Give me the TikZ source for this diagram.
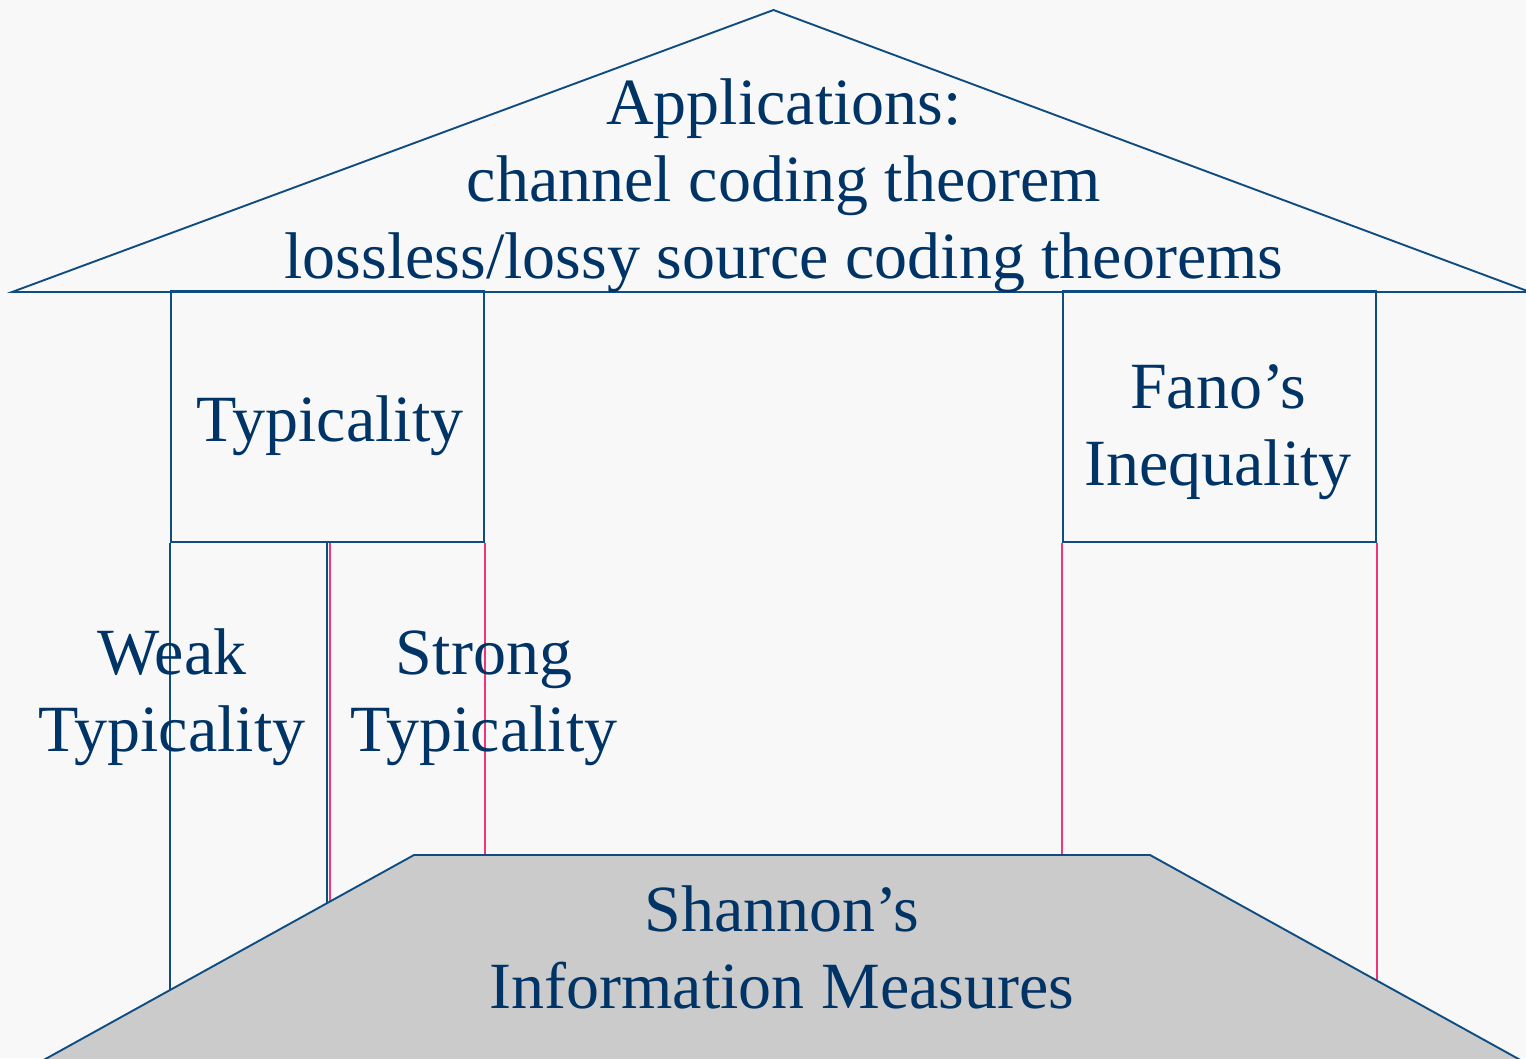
\documentclass[tikz,border=0pt]{standalone}
\usepackage{fontspec}
\setmainfont{Liberation Serif}
\definecolor{bg}{HTML}{F8F8F8}
\definecolor{ink}{HTML}{003366}
\definecolor{edge}{HTML}{0F4C81}
\definecolor{seamcol}{HTML}{F0357A}
\definecolor{basefill}{HTML}{CBCBCB}
\begin{document}
\begin{tikzpicture}[x=1pt,y=-1pt,
  outline/.style={draw=edge,line width=1.9pt,line join=miter},
  pillar/.style={draw=edge,line width=1.9pt},
  seam/.style={draw=seamcol,line width=1.6pt},
  beam/.style={outline,minimum width=313pt,minimum height=251pt,inner sep=0pt},
  label/.style={text=ink,font=\fontsize{66}{77}\selectfont,align=center,anchor=base,inner sep=0pt},
]
\fill[bg] (0,0) rectangle (1526,1058);
\useasboundingbox (0,0) rectangle (1526,1058);

% upper blocks under the roof
\node[beam] (typbox) at (327.5,416.5) {};
\node[beam] (fanobox) at (1219.5,416.5) {};

% pillars standing on the foundation
\draw[seam] ([xshift=2.6pt]typbox.south) -- ++(0,420);
\draw[pillar] ([xshift=-0.5pt]typbox.south) -- ++(0,420);
\draw[pillar] (typbox.south west) -- ++(0,480);
\draw[seam] (typbox.south east) -- ++(0,420);
\draw[seam] (fanobox.south west) -- ++(0,420);
\draw[seam] (fanobox.south east) -- ++(0,480);

% foundation
\filldraw[outline,fill=basefill] (414,855) coordinate (ftl) -- (1150,855) coordinate (ftr)
  -- (1524,1062) coordinate (fbr) -- (40,1062) coordinate (fbl) -- cycle;

% roof
\draw[outline] (12,292) coordinate (rl) -- (773.5,10) coordinate (apex) -- (1530,292) coordinate (rr) -- cycle;

% labels (base anchor sits on the last line)
\node[label] (apps) at (784,278) {Applications:\\channel coding theorem\\lossless/lossy source coding theorems};
\node[label] (typ) at (330,441) {Typicality};
\node[label] (fano) at (1218,485) {Fano’s\\Inequality};
\node[label] (weak) at (172,751) {Weak\\Typicality};
\node[label] (strong) at (484,751) {Strong\\Typicality};
\node[label] (shannon) at (782,1008) {Shannon’s\\Information Measures};
\end{tikzpicture}
\end{document}
